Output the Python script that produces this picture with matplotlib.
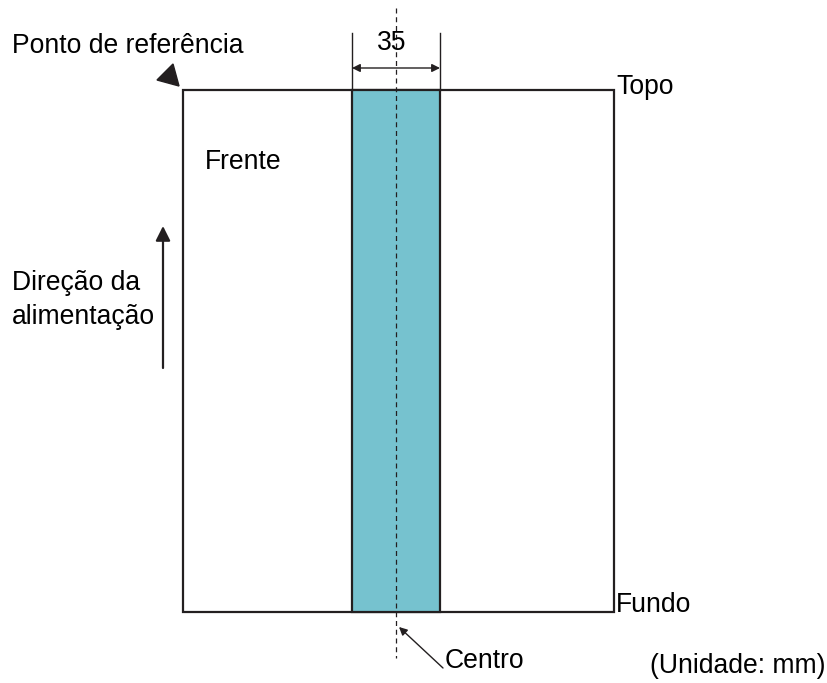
import matplotlib
matplotlib.use("Agg")
from matplotlib import pyplot as plt
from matplotlib.patches import Rectangle, Polygon

plt.rcParams['font.family'] = ['Liberation Sans', 'DejaVu Sans']

# diagram geometry in pixel units (y grows downwards)
PAGE_X = [183, 614]
PAGE_Y = [90, 612]
STRIP_WIDTH_MM = 35
STRIP_X = [352, 440]
CENTER_X = 396

LABELS = {
    "ref": "Ponto de referência",
    "front": "Frente",
    "feed": "Direção da\nalimentação",
    "top": "Topo",
    "bottom": "Fundo",
    "center": "Centro",
    "unit": "(Unidade: mm)",
}

FS = 19.1
INK = "#231f20"

fig = plt.figure(figsize=(8.27, 6.83), dpi=100)
ax = fig.add_axes([0, 0, 1, 1])
ax.set_xlim(0, 827)
ax.set_ylim(683, 0)
ax.axis("off")

# page outline
ax.add_patch(Rectangle((PAGE_X[0], PAGE_Y[0]), PAGE_X[1] - PAGE_X[0], PAGE_Y[1] - PAGE_Y[0],
                       facecolor="white", edgecolor=INK, lw=1.6, zorder=1))
# strip
ax.add_patch(Rectangle((STRIP_X[0], PAGE_Y[0]), STRIP_X[1] - STRIP_X[0], PAGE_Y[1] - PAGE_Y[0],
                       facecolor="#76c2cf", edgecolor=INK, lw=1.6, zorder=2))

# centre line
ax.plot([CENTER_X, CENTER_X], [8, 658], color=INK, lw=0.9, ls=(0, (4, 3)), zorder=3)

# dimension lines
for x in STRIP_X:
    ax.plot([x, x], [33, PAGE_Y[0]], color=INK, lw=1.0, zorder=3)
ax.annotate("", xy=(STRIP_X[0], 68), xytext=(STRIP_X[1], 68),
            arrowprops=dict(arrowstyle="<|-|>", color=INK, lw=1.0, mutation_scale=12, shrinkA=0, shrinkB=0))
ax.text((STRIP_X[0] + STRIP_X[1]) / 2 - 4, 43, str(STRIP_WIDTH_MM), fontsize=FS, ha="center", va="center", color="black")

# reference point marker
ax.add_patch(Polygon([(157, 80), (179, 86), (173, 64)], closed=True, facecolor=INK, edgecolor=INK, zorder=3))
ax.text(12, 46, LABELS["ref"], fontsize=FS, ha="left", va="center", color="black")

ax.text(205, 162, LABELS["front"], fontsize=FS, ha="left", va="center", color="black")
ax.text(12, 300, LABELS["feed"], fontsize=FS, ha="left", va="center", color="black", linespacing=1.45)
ax.annotate("", xy=(163, 226), xytext=(163, 368),
            arrowprops=dict(arrowstyle="-|>", color=INK, lw=1.6, mutation_scale=22, shrinkA=0, shrinkB=0))

ax.text(616, 87, LABELS["top"], fontsize=FS, ha="left", va="center", color="black")
ax.text(616, 605, LABELS["bottom"], fontsize=FS, ha="left", va="center", color="black")

ax.annotate("", xy=(399, 627), xytext=(443, 668),
            arrowprops=dict(arrowstyle="-|>", color=INK, lw=1.0, mutation_scale=12, shrinkA=0, shrinkB=0))
ax.text(445, 661, LABELS["center"], fontsize=FS, ha="left", va="center", color="black")
ax.text(650, 666, LABELS["unit"], fontsize=FS, ha="left", va="center", color="black")

fig.savefig("out.png", dpi=100)
